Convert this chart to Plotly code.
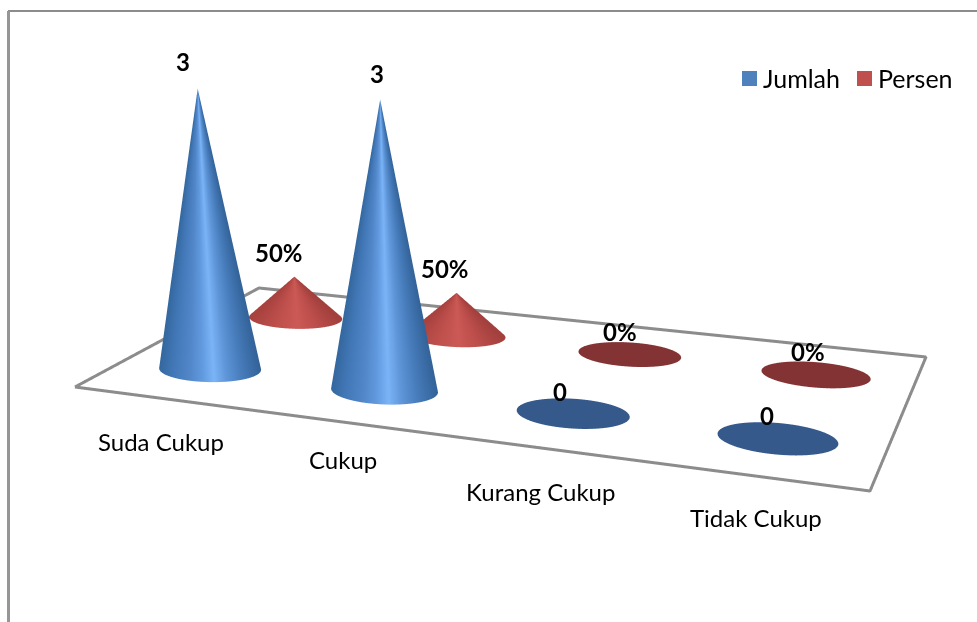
import numpy as np
import plotly.graph_objects as go

# ---- data -------------------------------------------------------------
categories = ["Suda Cukup", "Cukup", "Kurang Cukup", "Tidak Cukup"]
series_names = ["Jumlah", "Persen"]
jumlah = [3, 3, 0, 0]
persen = [0.5, 0.5, 0.0, 0.0]
jumlah_labels = ["3", "3", "0", "0"]
persen_labels = ["50%", "50%", "0%", "0%"]

# ---- style / layout constants ------------------------------------------
W, H = 977, 622
FONT = "Lato"
TEXT_SIZE = 24
LEGEND_SIZE = 25
SERIES_COLOR = {"Jumlah": "#4f81bd", "Persen": "#c0504d"}
FLAT_COLOR = {"Jumlah": "#34598a", "Persen": "#843335"}
SHADE = {
    "Jumlah": [[0, "#35689f"], [0.12, "#4177b6"], [0.3, "#5288ca"], [0.42, "#6199de"], [0.54, "#7cb4f8"],
               [0.66, "#5f97da"], [0.82, "#477cbb"], [1, "#336399"]],
    "Persen": [[0, "#a8423f"], [0.25, "#bc4e4a"], [0.52, "#cc5955"], [0.75, "#bb4d4a"], [1, "#a2403d"]],
}
ROW = {"Jumlah": 0.5, "Persen": 1.5}      # depth row of each series on the floor
RADIUS_U, RADIUS_V = 0.28, 0.21
LABEL_SHIFT = {"Jumlah": [(-15, 27), (-3, 26), (-13, 22), (-10, 23)],
               "Persen": [(-15, 24), (-12, 24), (-10, 23), (-8, 23)]}
CAT_V = -0.75
CAT_SHIFT = [(85, 7), (73, 17), (58, 16), (40, 24)]
LEGEND_SQUARE = 15
LEGEND_X = {"Jumlah": 742, "Persen": 857}
LEGEND_Y = 78.5

# Camera calibration: how the floor (u = 0..4, v = 0..2) and height sit in the window
FLOOR_UV = [(0, 0), (4, 0), (4, 2), (0, 2)]
FLOOR_PX = [(75, 387), (870, 491), (926, 357), (259, 288)]
HEIGHT_REF = [(0.5, 0.5, 3, 198, 88), (1.5, 0.5, 3, 380, 100),
              (0.5, 1.5, 0.5, 294, 277), (1.5, 1.5, 0.5, 456, 294)]

# ---- projection set-up -------------------------------------------------
A = []
b = []
for (u, v), (px, py) in zip(FLOOR_UV, FLOOR_PX):
    A.append([u, v, 1, 0, 0, 0, -u * px, -v * px]); b.append(px)
    A.append([0, 0, 0, u, v, 1, -u * py, -v * py]); b.append(py)
hom = np.append(np.linalg.solve(np.array(A, float), np.array(b, float)), 1).reshape(3, 3)

A = []
b = []
for u, v, w, px, py in HEIGHT_REF:
    a0, b0, c0 = hom @ [u, v, 1]
    A.append([w, 0, -w * px]); b.append(px * c0 - a0)
    A.append([0, w, -w * py]); b.append(py * c0 - b0)
h3 = np.linalg.lstsq(np.array(A, float), np.array(b, float), rcond=None)[0]
T = np.column_stack([hom[:, 0], hom[:, 1], h3, hom[:, 2]])

DEPTH = 2.0
T = T * DEPTH / (T[2] @ [2, 1, 0, 1])
cx, cy = W / 2, H / 2
f = (H / 2) / np.tan(np.pi / 8)
Q = np.vstack([(T[0] - cx * T[2]) / f, -(T[1] - cy * T[2]) / f, -T[2]])

ex = Q[:, 0] / np.linalg.norm(Q[:, 0])
ez = np.cross(Q[:, 0], Q[:, 1])
ez /= np.linalg.norm(ez)
if ez @ Q[:, 2] < 0:
    ez = -ez
ey = np.cross(ez, ex)
Rs = np.column_stack([ex, ey, ez])
Xo = Q @ [2, 1, 0, 1]
R = 2.0


def scene_xyz(u, v, w):
    """floor/height coordinates -> scene coordinates"""
    u, v, w = np.broadcast_arrays(u, v, w)
    pts = np.stack([u, v, w, np.ones_like(u, dtype=float)], axis=-1)
    cam = pts @ Q.T - Xo
    s = cam @ Rs
    return s[..., 0], s[..., 1], s[..., 2]


def pixel_x(u, v, w):
    pts = np.stack([u, v, np.full_like(u, w), np.ones_like(u)], axis=-1)
    return (pts @ T[0]) / (pts @ T[2])


eye = -Rs.T @ Xo / (2 * R)
center = Rs.T @ (np.array([0, 0, -DEPTH]) - Xo) / (2 * R)
up = Rs.T @ np.array([0.0, 1.0, 0.0])

# ---- figure ------------------------------------------------------------
fig = go.Figure()

# floor outline
fu = [p[0] for p in FLOOR_UV] + [FLOOR_UV[0][0]]
fv = [p[1] for p in FLOOR_UV] + [FLOOR_UV[0][1]]
x, y, z = scene_xyz(np.array(fu, float), np.array(fv, float), 0.0)
fig.add_trace(go.Scatter3d(x=x, y=y, z=z, mode="lines", line=dict(color="#8c8c8c", width=6),
                           showlegend=False, hoverinfo="skip"))

theta = np.linspace(0, 2 * np.pi, 241)
taper = np.linspace(0, 1, 40)
annotations = []
series_values = {"Jumlah": jumlah, "Persen": persen}
series_labels = {"Jumlah": jumlah_labels, "Persen": persen_labels}
for name in series_names:
    v0 = ROW[name]
    for i, val in enumerate(series_values[name]):
        u0 = i + 0.5
        tt, tp = np.meshgrid(theta, taper)
        uu = u0 + RADIUS_U * (1 - tp) * np.cos(tt)
        vv = v0 + RADIUS_V * (1 - tp) * np.sin(tt)
        ww = val * tp
        x, y, z = scene_xyz(uu, vv, ww)
        base_px = pixel_x(u0 + RADIUS_U * np.cos(theta), v0 + RADIUS_V * np.sin(theta), 0.0)
        frac = (base_px - base_px.min()) / (base_px.max() - base_px.min())
        if val > 0:
            sc = np.tile(frac, (len(taper), 1))
            cs = SHADE[name]
        else:
            sc = np.zeros_like(uu)
            cs = [[0, FLAT_COLOR[name]], [1, FLAT_COLOR[name]]]
        fig.add_trace(go.Surface(x=x, y=y, z=z, surfacecolor=sc, colorscale=cs, cmin=0, cmax=1,
                                 showscale=False, hoverinfo="skip", showlegend=False, name=name,
                                 lighting=dict(ambient=1, diffuse=0, specular=0, roughness=1, fresnel=0)))
        ax, ay, az = scene_xyz(np.array(u0), np.array(v0), np.array(float(val)))
        sx, sy = LABEL_SHIFT[name][i]
        annotations.append(dict(x=float(ax), y=float(ay), z=float(az), text="<b>%s</b>" % series_labels[name][i],
                                showarrow=False, xanchor="center", yanchor="middle", xshift=sx, yshift=sy,
                                font=dict(family=FONT, size=TEXT_SIZE, color="#000000", weight=900)))

for i, cat in enumerate(categories):
    ax, ay, az = scene_xyz(np.array(i + 0.5), np.array(CAT_V), np.array(0.0))
    sx, sy = CAT_SHIFT[i]
    annotations.append(dict(x=float(ax), y=float(ay), z=float(az), text=cat, showarrow=False,
                            xanchor="center", yanchor="middle", xshift=sx, yshift=sy,
                            font=dict(family=FONT, size=TEXT_SIZE, color="#000000")))

# legend keys and names
shapes = [
    dict(type="line", xref="paper", yref="paper", x0=8 / W, x1=1, y0=1 - 11 / H, y1=1 - 11 / H,
         line=dict(color="#8c8c8c", width=2)),
    dict(type="line", xref="paper", yref="paper", x0=8.5 / W, x1=8.5 / W, y0=0, y1=1 - 11 / H,
         line=dict(color="#969696", width=3)),
]
paper_text = []
for name in series_names:
    lx = LEGEND_X[name]
    half = LEGEND_SQUARE / 2
    shapes.append(dict(type="rect", xref="paper", yref="paper", x0=lx / W, x1=(lx + LEGEND_SQUARE) / W,
                       y0=1 - (LEGEND_Y + half) / H, y1=1 - (LEGEND_Y - half) / H,
                       fillcolor=SERIES_COLOR[name], line=dict(width=0)))
    paper_text.append(dict(xref="paper", yref="paper", x=(lx + LEGEND_SQUARE + 4) / W, y=1 - (LEGEND_Y - 0.5) / H,
                           text=name, showarrow=False, xanchor="left", yanchor="middle",
                           font=dict(family=FONT, size=LEGEND_SIZE, color="#000000")))

hidden = dict(visible=False, range=[-R, R], autorange=False, showspikes=False)
fig.update_layout(
    width=W, height=H, margin=dict(l=0, r=0, t=0, b=0), paper_bgcolor="white", plot_bgcolor="white",
    font=dict(family=FONT, size=TEXT_SIZE, color="#000000"), showlegend=False,
    scene=dict(
        domain=dict(x=[0, 1], y=[0, 1]), bgcolor="white",
        xaxis=hidden, yaxis=hidden, zaxis=hidden,
        aspectmode="manual", aspectratio=dict(x=1, y=1, z=1),
        camera=dict(eye=dict(x=eye[0], y=eye[1], z=eye[2]),
                    center=dict(x=center[0], y=center[1], z=center[2]),
                    up=dict(x=up[0], y=up[1], z=up[2]),
                    projection=dict(type="perspective")),
        annotations=annotations,
    ),
    annotations=paper_text,
    shapes=shapes,
)

fig.write_html("out.html", config=dict(displayModeBar=False),
               post_script="document.body.style.margin='0';document.body.style.overflow='hidden';")
